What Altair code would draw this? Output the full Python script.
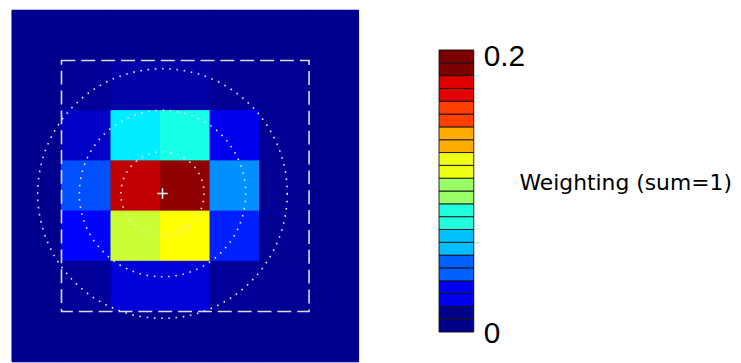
import altair as alt
import pandas as pd

# ---- heatmap weights (rows top->bottom, columns left->right) ----
row_ids = [0, 1, 2, 3, 4, 5, 6]
col_ids = [0, 1, 2, 3, 4, 5, 6]
weights = [
    [0.000, 0.000, 0.000, 0.000, 0.000, 0.000, 0.000],
    [0.000, 0.0015, 0.0049, 0.0052, 0.0015, 0.0005, 0.000],
    [0.000, 0.0112, 0.0697, 0.0776, 0.0188, 0.0005, 0.000],
    [0.000, 0.0382, 0.1890, 0.2000, 0.0509, 0.0005, 0.000],
    [0.000, 0.0230, 0.1136, 0.1238, 0.0286, 0.0005, 0.000],
    [0.000, 0.0017, 0.0144, 0.0144, 0.0017, 0.0005, 0.000],
    [0.000, 0.000, 0.000, 0.000, 0.000, 0.000, 0.000],
]

# ---- overlays ----
box_lo = [0.5]
box_hi = [5.5]
centre_x = [2.54]
centre_y = [3.15]
circle_radii = [0.84, 1.68, 2.52]   # in cell units

# ---- colour map (jet) ----
jet_stops = [0.0, 0.2 * 7 / 63, 0.2 * 23 / 63, 0.2 * 39 / 63, 0.2 * 55 / 63, 0.2]
jet_colors = ["#00008f", "#0000ff", "#00ffff", "#ffff00", "#ff0000", "#8f0000"]

# ---- colour bar (bottom -> top) ----
cb_colors = [
    "#000088", "#000088", "#0000ee", "#0000ee", "#0060ff", "#0060ff",
    "#00c0ff", "#00c0ff", "#22ffdd", "#22ffdd", "#99ff66", "#99ff66",
    "#eeff11", "#eeff11", "#ffab00", "#ffab00", "#ff4000", "#ff4000",
    "#e00000", "#e00000", "#7a0000", "#7a0000",
]
cb_max = 0.2
tick_values = [0.0, 0.2]
tick_labels = ["0", "0.2"]
cb_title = "Weighting (sum=1)"

W, H = 349, 354

cells = pd.DataFrame(
    [{"row": r, "col": c, "w": weights[r][c]} for r in row_ids for c in col_ids]
)
frame = pd.DataFrame({"lo": [row_ids[0] - 0.5], "hi": [row_ids[-1] + 0.5], "w": [0.0]})
box = pd.DataFrame({"lo": box_lo, "hi": box_hi})
circles = pd.DataFrame(
    {"cx": centre_x * len(circle_radii), "cy": centre_y * len(circle_radii), "r": circle_radii}
)
centre = pd.DataFrame({"cx": centre_x, "cy": centre_y})

xs = alt.Scale(domain=[-0.5, 6.5], nice=False, zero=False)
ys = alt.Scale(domain=[-0.5, 6.5], nice=False, zero=False, reverse=True)
cscale = alt.Scale(domain=jet_stops, range=jet_colors, interpolate="rgb", clamp=True)

background = (
    alt.Chart(frame)
    .mark_rect(opacity=1)
    .encode(
        x=alt.X("lo:Q", scale=xs, axis=None),
        x2="hi:Q",
        y=alt.Y("lo:Q", scale=ys, axis=None),
        y2="hi:Q",
        color=alt.Color("w:Q", scale=cscale, legend=None),
    )
)

heat = (
    alt.Chart(cells)
    .transform_calculate(
        x0="datum.col - 0.5", x1="datum.col + 0.5",
        y0="datum.row - 0.5", y1="datum.row + 0.5",
    )
    .mark_rect(strokeWidth=1.0, strokeOpacity=1, opacity=1)
    .encode(
        x=alt.X("x0:Q", scale=xs, axis=None),
        x2="x1:Q",
        y=alt.Y("y0:Q", scale=ys, axis=None),
        y2="y1:Q",
        color=alt.Color("w:Q", scale=cscale, legend=None),
        stroke=alt.Stroke("w:Q", scale=cscale, legend=None),
    )
)

dash_box = (
    alt.Chart(box)
    .mark_rect(fillOpacity=0, stroke="#dcdcf0", strokeWidth=1.6, strokeDash=[14, 6])
    .encode(
        x=alt.X("lo:Q", scale=xs),
        x2="hi:Q",
        y=alt.Y("lo:Q", scale=ys),
        y2="hi:Q",
    )
)

px_per_cell = W / 7.0
rings = (
    alt.Chart(circles)
    .mark_point(shape="circle", filled=False, color="#e6e6ff", opacity=1,
                strokeWidth=1.6, strokeDash=[1.6, 5.7])
    .encode(
        x=alt.X("cx:Q", scale=xs),
        y=alt.Y("cy:Q", scale=ys),
        size=alt.Size("r:Q", legend=None,
                      scale=alt.Scale(type="pow", exponent=2, domain=[0, 1],
                                      range=[0, (2 * px_per_cell) ** 2])),
    )
)

plus = (
    alt.Chart(centre)
    .mark_point(shape="M-1,0L1,0M0,-1L0,1", size=110, color="white",
                opacity=1, strokeWidth=1.5, filled=False)
    .encode(x=alt.X("cx:Q", scale=xs), y=alt.Y("cy:Q", scale=ys))
)

left = alt.layer(background, heat, dash_box, rings, plus).properties(width=W, height=H)

# ---- colour bar panel ----
n = len(cb_colors)
bands = pd.DataFrame(
    {
        "lo": [i * cb_max / n for i in range(n)],
        "hi": [(i + 1) * cb_max / n for i in range(n)],
        "col": cb_colors,
    }
)
cbx = alt.Scale(domain=[0, 1], nice=False, zero=False)
cby = alt.Scale(domain=[-0.0211, 0.2282], nice=False, zero=False)

bar = (
    alt.Chart(bands)
    .mark_rect(stroke="#111111", strokeWidth=0.9)
    .encode(
        x=alt.datum(0, scale=cbx, axis=None),
        x2=alt.datum(1),
        y=alt.Y("lo:Q", scale=cby, axis=None),
        y2="hi:Q",
        color=alt.Color("col:N", scale=None),
    )
)

ticks = pd.DataFrame({"v": tick_values, "label": tick_labels})
top_lab = (
    alt.Chart(ticks)
    .transform_filter("datum.v > 0")
    .mark_text(align="left", baseline="alphabetic", font="Liberation Sans",
               fontSize=30, dx=10, dy=16, color="black")
    .encode(x=alt.datum(1, scale=cbx), y=alt.Y("v:Q", scale=cby), text="label:N")
)
bot_lab = (
    alt.Chart(ticks)
    .transform_filter("datum.v == 0")
    .mark_text(align="left", baseline="alphabetic", font="Liberation Sans",
               fontSize=30, dx=10, dy=11, color="black")
    .encode(x=alt.datum(1, scale=cbx), y=alt.Y("v:Q", scale=cby), text="label:N")
)
title_df = pd.DataFrame({"v": [cb_max / 2], "label": [cb_title]})
title = (
    alt.Chart(title_df)
    .mark_text(align="left", baseline="alphabetic", font="DejaVu Sans",
               fontSize=22, dx=46, dy=-1.5, color="black")
    .encode(x=alt.datum(1, scale=cbx), y=alt.Y("v:Q", scale=cby), text="label:N")
)

right = alt.layer(bar, top_lab, bot_lab, title).properties(width=35, height=H)

chart = (
    alt.hconcat(left, right, spacing=79)
    .resolve_scale(x="independent", y="independent", color="independent", size="independent")
    .properties(padding={"left": 3, "top": 0, "right": 0, "bottom": 0}, background="white")
    .configure_view(strokeWidth=0)
)

chart.save("out.html", embed_options={"renderer": "svg", "actions": False})
